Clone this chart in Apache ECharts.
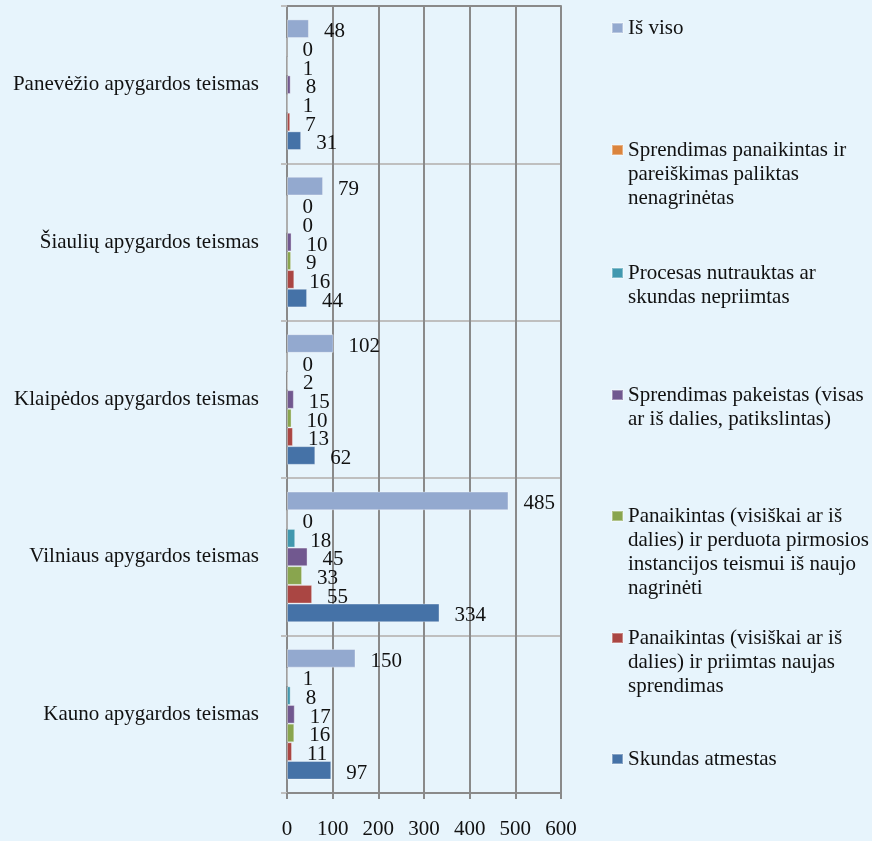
<!DOCTYPE html>
<html>
<head>
<meta charset="utf-8">
<script src="https://cdn.jsdelivr.net/npm/echarts@6/dist/echarts.min.js"></script>
<style>
html,body{margin:0;padding:0;background:#E7F4FC;}
#chart{width:872px;height:841px;}
</style>
</head>
<body>
<div id="chart"></div>
<script>
// Categories (bottom to top)
const categories = ['Kauno apygardos teismas', 'Vilniaus apygardos teismas', 'Klaipėdos apygardos teismas', 'Šiaulių apygardos teismas', 'Panevėžio apygardos teismas'];

// Series values (same order as categories)
const isViso = [150, 485, 102, 79, 48];
const paliktasNenagrinetas = [1, 0, 0, 0, 0];
const procesasNutrauktas = [8, 18, 2, 0, 1];
const sprendimasPakeistas = [17, 45, 15, 10, 8];
const perduotaIsNaujo = [16, 33, 10, 9, 1];
const priimtasNaujas = [11, 55, 13, 16, 7];
const skundasAtmestas = [97, 334, 62, 44, 31];

// Value axis ticks
const xMin = 0, xMax = 600, xInterval = 100;

// Series order: top of each group first (matches legend order)
const seriesNames = [
  'Iš viso',
  'Sprendimas panaikintas ir pareiškimas paliktas nenagrinėtas',
  'Procesas nutrauktas ar skundas nepriimtas',
  'Sprendimas pakeistas (visas ar iš dalies, patikslintas)',
  'Panaikintas (visiškai ar iš dalies) ir perduota pirmosios instancijos teismui iš naujo nagrinėti',
  'Panaikintas (visiškai ar iš dalies) ir priimtas naujas sprendimas',
  'Skundas atmestas'
];
const legendLines = [
  ['Iš viso'],
  ['Sprendimas panaikintas ir', 'pareiškimas paliktas', 'nenagrinėtas'],
  ['Procesas nutrauktas ar', 'skundas nepriimtas'],
  ['Sprendimas pakeistas (visas', 'ar iš dalies, patikslintas)'],
  ['Panaikintas (visiškai ar iš', 'dalies) ir perduota pirmosios', 'instancijos teismui iš naujo', 'nagrinėti'],
  ['Panaikintas (visiškai ar iš', 'dalies) ir priimtas naujas', 'sprendimas'],
  ['Skundas atmestas']
];
const seriesValues = [isViso, paliktasNenagrinetas, procesasNutrauktas, sprendimasPakeistas, perduotaIsNaujo, priimtasNaujas, skundasAtmestas];
const colors = ['#93A9CF', '#DB843D', '#4198AF', '#71588F', '#89A54E', '#AA4643', '#4572A7'];

const FONT = "'Liberation Serif', 'Times New Roman', serif";
const FS = 21;
const FSN = 21;
const LH = 24;
// legend icon centre y (for each series)
const legendIconY = [28, 150, 273, 395, 516, 638, 759];

const legends = seriesNames.map((name, i) => {
  const n = legendLines[i].length;
  const pad = [];
  for (let k = 1; k < n; k++) pad.push(' ');
  return {
    orient: 'vertical',
    left: 611,
    top: legendIconY[i] - (2 * n - 1) * LH / 2,
    padding: 0,
    itemWidth: 11,
    itemHeight: 10,
    icon: 'rect',
    selectedMode: false,
    data: [name],
    formatter: () => pad.concat(legendLines[i]).join('\n'),
    textStyle: {
      fontFamily: FONT,
      fontSize: FS,
      lineHeight: LH,
      color: '#111'
    }
  };
});

const series = seriesNames.map((name, i) => ({
  name: name,
  type: 'bar',
  data: seriesValues[i],
  barGap: '0%',
  barCategoryGap: '17%',
  itemStyle: { color: colors[i], borderColor: 'rgba(255,255,255,0.35)', borderWidth: 1 },
  label: {
    show: true,
    position: 'right',
    distance: 15,
    offset: [0, 3],
    fontFamily: FONT,
    fontSize: FSN,
    color: '#111'
  }
}));

const chart = echarts.init(document.getElementById('chart'));
chart.setOption({
  backgroundColor: '#E7F4FC',
  animation: false,
  color: colors,
  legend: legends,
  grid: { left: 287, right: 311, top: 6, bottom: 48, containLabel: false },
  xAxis: [{
    type: 'value',
    min: xMin, max: xMax, interval: xInterval,
    axisLine: { show: true, lineStyle: { color: '#8A8A8A', width: 2 } },
    axisTick: { show: true, length: 6, lineStyle: { color: '#8A8A8A', width: 2 } },
    splitLine: { show: true, lineStyle: { color: '#8A8A8A', width: 2 } },
    axisLabel: { fontFamily: FONT, fontSize: FSN, color: '#111', margin: 26 }
  }, {
    type: 'value', position: 'top',
    min: xMin, max: xMax, interval: xInterval,
    axisLine: { show: true, lineStyle: { color: '#8A8A8A', width: 2 } },
    axisTick: { show: false }, axisLabel: { show: false }, splitLine: { show: false }
  }],
  yAxis: {
    type: 'category',
    data: categories,
    axisLine: { show: true, lineStyle: { color: '#8A8A8A', width: 2 } },
    axisTick: { show: true, length: 6, lineStyle: { color: '#BFBFBF', width: 2 } },
    splitLine: { show: true, lineStyle: { color: '#BFBFBF', width: 2 } },
    axisLabel: { fontFamily: FONT, fontSize: FS, color: '#111', margin: 28, padding: [6, 0, 0, 0] }
  },
  series: series
});
</script>
</body>
</html>
